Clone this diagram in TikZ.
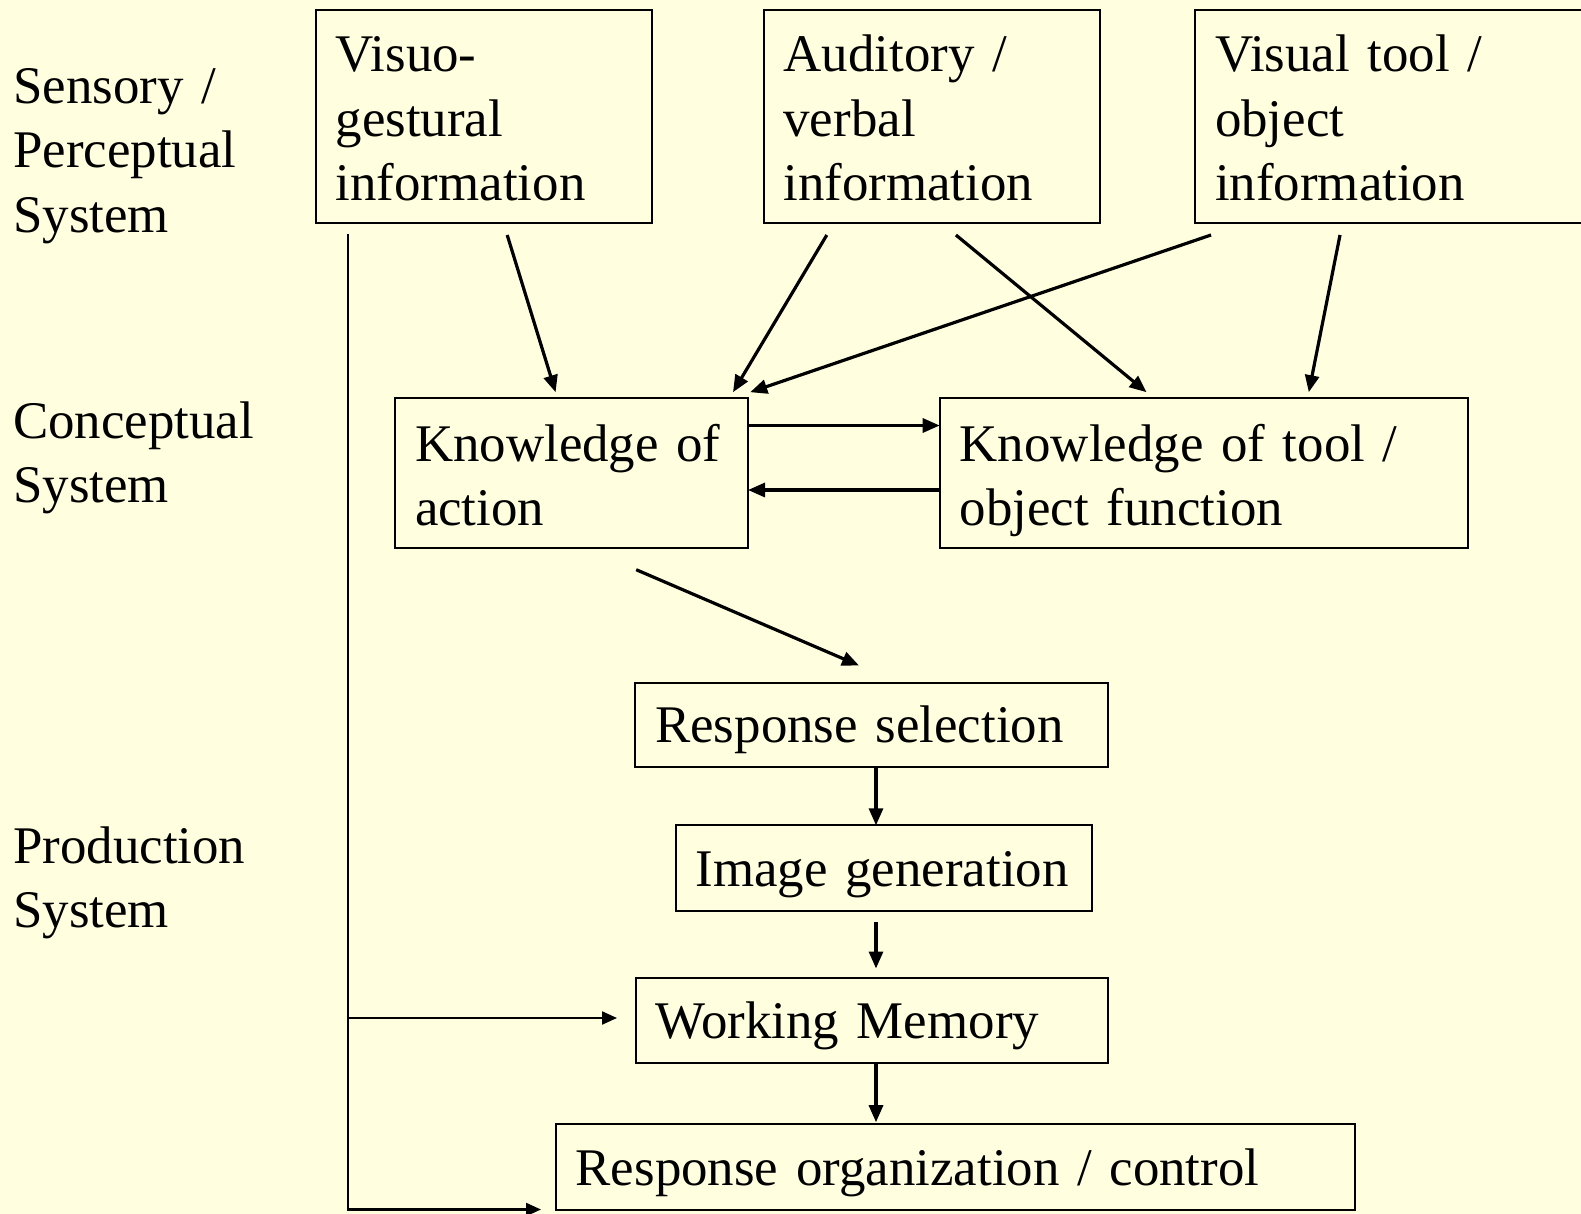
\documentclass[tikz,border=0pt]{standalone}
\usepackage{fontspec}
\setmainfont{Liberation Serif}
\usetikzlibrary{arrows.meta,calc}
\definecolor{bg}{RGB}{255,255,224}
\begin{document}
\begin{tikzpicture}[x=1pt,y=-1pt,
  txt/.style={font=\fontsize{52.9pt}{64.4pt}\selectfont},
  box/.style={txt, draw, line width=2pt, anchor=north west, inner xsep=20pt,
    inner ysep=0pt, outer sep=0pt, align=left},
  lbl/.style={txt, anchor=base west, inner sep=0pt, align=left, text width=300pt},
  arr/.style={line width=3.2pt, -{Triangle[length=17pt,width=14pt]}},
  thinarr/.style={line width=2.2pt, -{Triangle[length=15pt,width=13pt]}}]
\useasboundingbox (0,0) rectangle (1581,1214);
\clip (0,0) rectangle (1581,1214);
\fill[bg] (0,0) rectangle (1581,1214);

% left labels
\node[lbl] (sp) at (13,103.3) {Sensory /\\Perceptual\\System};
\node[lbl] (cs) at (13,438) {Conceptual\\System};
\node[lbl] (ps) at (13,863.3) {Production\\System};

% boxes
\node[box, text width=296pt, text height=61.7pt, text depth=151pt] (vis) at (315.7,10)
  {Visuo-\\gestural\\information};
\node[box, text width=296pt, text height=61.7pt, text depth=151pt] (aud) at (763.5,10)
  {Auditory /\\verbal\\information};
\node[box, text width=385pt, text height=61.7pt, text depth=151pt] (vt) at (1195,10)
  {Visual tool /\\object\\information};
\node[box, text width=313pt, text height=62.7pt, text depth=86.5pt] (koa) at (395,398.3)
  {Knowledge of\\action};
\node[box, text width=487.8pt, text height=62.7pt, text depth=86.5pt] (kot) at (939.7,398.3)
  {Knowledge of tool /\\object function};
\node[box, text width=433pt, text height=60.1pt, text depth=24.6pt] (rs) at (635.2,682.6)
  {Response selection};
\node[box, text width=376pt, text height=61.4pt, text depth=23.8pt] (ig) at (675.5,825.3)
  {Image generation};
\node[box, text width=432.7pt, text height=60pt, text depth=25pt] (wm) at (635.5,978.3)
  {Working Memory};
\node[box, text width=759.3pt, text height=60.8pt, text depth=24.5pt] (ro) at (555.7,1124.2)
  {Response organization / control};

% connectors
\draw[arr] ($(vis.south west)+(191.5,12.3)$) -- ($(koa.north west)+(160.6,-6.1)$);
\draw[arr] ($(aud.south west)+(63.3,12.3)$) -- ($(koa.north west)+(338,-6.1)$);
\draw[arr] ($(aud.south west)+(192.4,12.3)$) -- ($(kot.north west)+(206.8,-6.1)$);
\draw[arr] ($(vt.south west)+(16,12.3)$) -- ($(koa.north east)+(2.2,-6.1)$);
\draw[arr] ($(vt.south west)+(145,12.3)$) -- ($(kot.north west)+(369.1,-6.1)$);
\draw[arr] ($(koa.north east)+(0,27.2)$) -- ($(kot.north west)+(0,27.2)$);
\draw[arr] ($(kot.north west)+(0,91.7)$) -- ($(koa.north east)+(0,91.7)$);
\draw[arr] ($(koa.south west)+(241.2,22.2)$) -- ($(rs.north west)+(223.8,-17.1)$);
\draw[arr] ($(rs.south west)+(240.8,0)$) -- ($(ig.north west)+(200.5,0)$);
\draw[arr] ($(ig.south west)+(200.5,11.2)$) -- ($(wm.north west)+(240.5,-9.8)$);
\draw[arr] ($(wm.south west)+(240.5,0)$) -- ($(ro.north west)+(320.3,-2)$);

\coordinate (ltop) at ($(vis.south west)+(32.3,11.3)$);
\coordinate (lbot) at ($(ro.south west)+(-207.7,0)$);
\draw[thinarr] (ltop) -- (lbot) -- ($(ro.south west)+(-14.7,0)$);
\draw[thinarr] ($(wm.west)+(-287.5,-2.8)$) -- ($(wm.west)+(-18.5,-2.8)$);
\end{tikzpicture}
\end{document}
